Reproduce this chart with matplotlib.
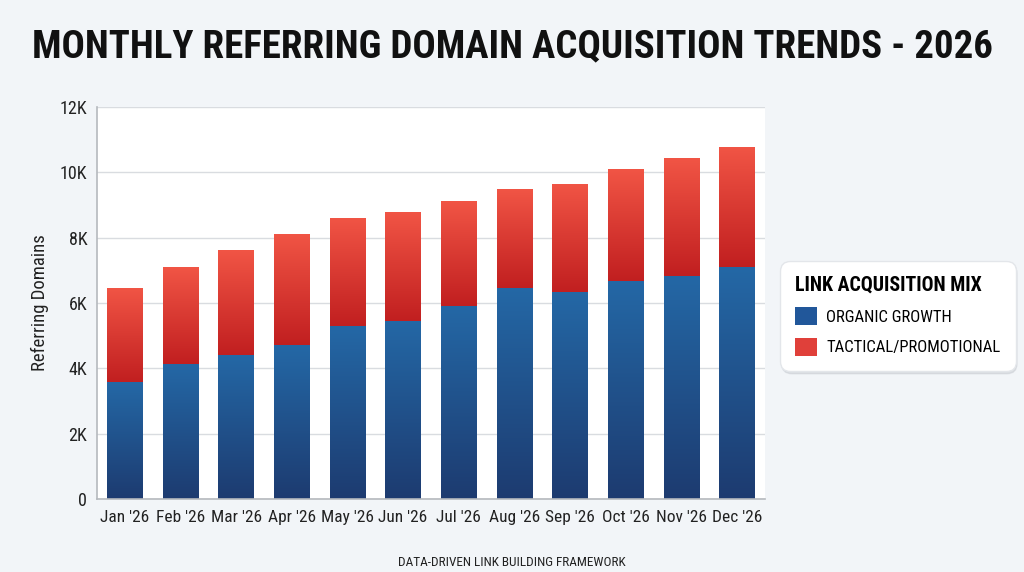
''' Monthly referring domain acquisition chart.
'''
import numpy as np
import matplotlib
matplotlib.use('Agg')
import matplotlib.pyplot as plt
from matplotlib.colors import LinearSegmentedColormap
from matplotlib.patches import Patch
from matplotlib.ticker import FuncFormatter

months = ["Jan '26", "Feb '26", "Mar '26", "Apr '26", "May '26", "Jun '26",
          "Jul '26", "Aug '26", "Sep '26", "Oct '26", "Nov '26", "Dec '26"]
organic = [3570, 4130, 4420, 4710, 5290, 5460, 5920, 6460, 6340, 6680, 6830, 7100]
total = [6450, 7090, 7630, 8110, 8610, 8790, 9130, 9480, 9650, 10090, 10430, 10780]
tactical = [t - o for t, o in zip(total, organic)]

BG = '#f2f5f8'
FONT = ['Roboto Condensed', 'DejaVu Sans']
plt.rcParams['font.family'] = FONT

blue_cmap = LinearSegmentedColormap.from_list('b', ['#1d3b70', '#2468a6'])
red_cmap = LinearSegmentedColormap.from_list('r', ['#c11f20', '#f15545'])


def gradient_fill(ax, bars, cmap):
    grad = np.linspace(0, 1, 256).reshape(-1, 1)
    for b in bars:
        x, y = b.get_x(), b.get_y()
        w, h = b.get_width(), b.get_height()
        im = ax.imshow(grad, cmap=cmap, origin='lower', aspect='auto',
                       extent=[x, x + w, y, y + h], zorder=2)
        im.set_clip_path(b)


fig = plt.figure(figsize=(10.24, 5.72), dpi=100, facecolor=BG)
ax = fig.add_axes([0.0947, 0.1276, 0.6523, 0.6853])
ax.set_facecolor('white')

x = np.arange(len(months))
b1 = ax.bar(x, organic, width=0.64, color='#21508c', zorder=2)
b2 = ax.bar(x, tactical, bottom=organic, width=0.64, color='#d93a33', zorder=2)
gradient_fill(ax, b1, blue_cmap)
gradient_fill(ax, b2, red_cmap)

ax.set_xlim(-0.5, len(months) - 0.5)
ax.set_ylim(0, 12000)
ax.set_yticks(range(0, 12001, 2000))
ax.yaxis.set_major_formatter(FuncFormatter(lambda v, p: '0' if v == 0 else '{:d}K'.format(int(v / 1000))))
ax.set_xticks(x)
ax.set_xticklabels(months)
ax.tick_params(axis='both', length=0, labelsize=12.5, colors='#222222', pad=8)
ax.tick_params(axis='y', pad=7, labelsize=13)
ax.grid(axis='y', color='#d9dce0', lw=1, zorder=0)
ax.set_axisbelow(True)
for s in ['top', 'right']:
    ax.spines[s].set_visible(False)
for s in ['left', 'bottom']:
    ax.spines[s].set_color('#b5b9be')
    ax.spines[s].set_linewidth(1.2)

ax.set_ylabel('Referring Domains', fontsize=13.5, color='#222222', labelpad=8)

fig.text(0.5, 0.918, 'MONTHLY REFERRING DOMAIN ACQUISITION TRENDS - 2026',
         ha='center', va='center', fontsize=28, fontweight='bold', color='#111111')
fig.text(0.5, 0.016, 'DATA-DRIVEN LINK BUILDING FRAMEWORK',
         ha='center', va='center', fontsize=9.5, color='#222222')

handles = [Patch(facecolor='#21579a', label='ORGANIC GROWTH'),
           Patch(facecolor='#e0403a', label='TACTICAL/PROMOTIONAL')]
leg = fig.legend(handles=handles, title='LINK ACQUISITION MIX',
                 loc='center left', bbox_to_anchor=(0.754, 0.448),
                 fontsize=12, title_fontproperties={'family': FONT, 'weight': 'bold', 'size': 14.3},
                 handlelength=1.3, handleheight=1.3, handletextpad=0.55,
                 labelspacing=0.75, borderpad=0.9, frameon=True,
                 shadow={'color': '#c8ccd2', 'alpha': 0.5, 'ox': 1, 'oy': -2})
leg._legend_box.align = 'left'
frame = leg.get_frame()
frame.set_facecolor('white')
frame.set_edgecolor('#e3e6ea')
frame.set_alpha(1)
frame.set_boxstyle('round,pad=0,rounding_size=0.6')

fig.savefig('out.png', dpi=100, facecolor=BG)
